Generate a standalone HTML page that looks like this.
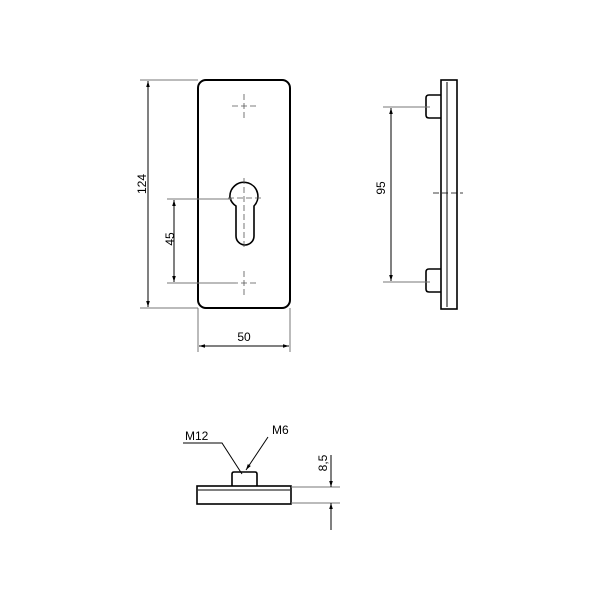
<!DOCTYPE html>
<html><head><style>body{margin:0;background:#fff}svg{display:block}</style></head><body>
<svg width="600" height="600" xmlns="http://www.w3.org/2000/svg" font-family="Liberation Sans, sans-serif">
<defs>
<marker id="a" viewBox="0 0 10 10" refX="10" refY="5" markerWidth="6" markerHeight="6" orient="auto-start-reverse"><path d="M0,2 L10,5 L0,8 z" fill="#000"/></marker>
</defs>
<g fill="none" stroke="#000">
<!-- front plate -->
<rect x="198" y="80" width="92" height="228" rx="8" stroke-width="2"/>
<path d="M230,198 A14,14 0 1 1 254,206 L254,236 A9,9 0 0 1 236,236 L236,206 A14,14 0 0 1 230,198 Z" stroke-width="1.6"/>
<g stroke-width="0.8" stroke="#555" stroke-dasharray="6,3">
<line x1="244" y1="94" x2="244" y2="118"/><line x1="232" y1="106" x2="256" y2="106"/>
<line x1="244" y1="178" x2="244" y2="248"/><line x1="228" y1="198" x2="264" y2="198"/>
<line x1="244" y1="271" x2="244" y2="295"/><line x1="232" y1="283" x2="256" y2="283"/>
</g>
<g stroke="#777" stroke-width="1">
<line x1="140" y1="80" x2="198" y2="80"/><line x1="140" y1="308" x2="198" y2="308"/>
<line x1="167" y1="199" x2="232" y2="199"/><line x1="167" y1="283" x2="236" y2="283"/>
<line x1="198" y1="308" x2="198" y2="352"/><line x1="290" y1="308" x2="290" y2="352"/>
</g>
<g stroke="#000" stroke-width="1">
<line x1="148" y1="81" x2="148" y2="307" marker-start="url(#a)" marker-end="url(#a)"/>
<line x1="174" y1="200" x2="174" y2="282" marker-start="url(#a)" marker-end="url(#a)"/>
<line x1="199" y1="346" x2="289" y2="346" marker-start="url(#a)" marker-end="url(#a)"/>
</g>
<!-- side view -->
<rect x="441" y="80" width="16" height="229" stroke-width="1.6"/>
<line x1="447" y1="82" x2="447" y2="307" stroke-width="1"/>
<path d="M441,95 L429,95 Q426,95 426,98 L426,115 Q426,118 429,118 L441,118" stroke-width="1.6"/>
<path d="M441,269 L429,269 Q426,269 426,272 L426,289 Q426,292 429,292 L441,292" stroke-width="1.6"/>
<line x1="433" y1="193" x2="463" y2="193" stroke-width="0.8" stroke-dasharray="6,3"/>
<g stroke="#777" stroke-width="1">
<line x1="383" y1="107" x2="430" y2="107"/><line x1="383" y1="282" x2="430" y2="282"/>
</g>
<line x1="391" y1="108" x2="391" y2="281" stroke-width="1" marker-start="url(#a)" marker-end="url(#a)"/>
<!-- bottom view -->
<rect x="197" y="486" width="94" height="18" stroke-width="1.6"/>
<line x1="198" y1="490" x2="290" y2="490" stroke-width="1"/>
<path d="M232,486 L232,474 Q232,472 234,472 L255,472 Q257,472 257,474 L257,486" stroke-width="1.6"/>
<g stroke="#777" stroke-width="1">
<line x1="291" y1="487" x2="340" y2="487"/><line x1="291" y1="503" x2="340" y2="503"/>
</g>
<line x1="331" y1="455" x2="331" y2="487" stroke-width="1" marker-end="url(#a)"/>
<line x1="331" y1="530" x2="331" y2="503" stroke-width="1" marker-end="url(#a)"/>
<polyline points="183,443 222,443 242,474" stroke-width="1"/>
<polyline points="268,437 246,470" stroke-width="1" marker-end="url(#a)"/>
</g>
<g font-size="12" fill="#000">
<text x="244" y="341" text-anchor="middle">50</text>
<text transform="translate(146,184) rotate(-90)" text-anchor="middle">124</text>
<text transform="translate(174,239) rotate(-90)" text-anchor="middle">45</text>
<text transform="translate(385,188) rotate(-90)" text-anchor="middle">95</text>
<text transform="translate(327,463) rotate(-90)" text-anchor="middle">8,5</text>
<text x="185" y="440">M12</text>
<text x="272" y="434">M6</text>
</g>
</svg>
</body></html>
